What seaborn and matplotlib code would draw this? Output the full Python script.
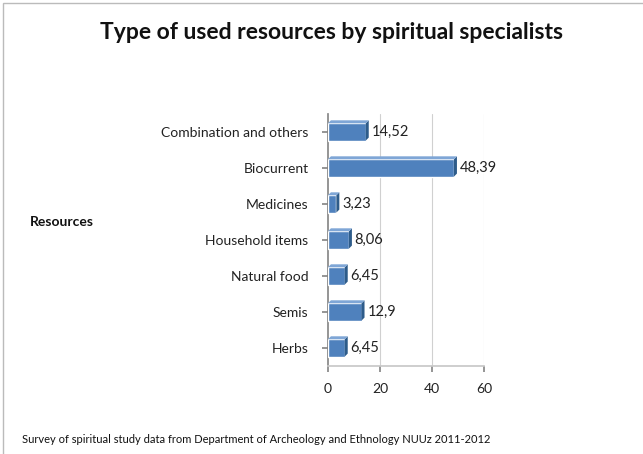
import matplotlib
matplotlib.use("Agg")
import matplotlib.pyplot as plt
import seaborn as sns
import pandas as pd
from matplotlib.patches import Polygon, Rectangle

categories = ["Combination and others", "Biocurrent", "Medicines", "Household items",
              "Natural food", "Semis", "Herbs"]
values = [14.52, 48.39, 3.23, 8.06, 6.45, 12.9, 6.45]
value_labels = ["14,52", "48,39", "3,23", "8,06", "6,45", "12,9", "6,45"]
xticks = [0, 20, 40, 60]

sns.set_theme(style="white")
plt.rcParams["font.family"] = ["Lato", "DejaVu Sans"]

df = pd.DataFrame({"Resource": categories, "Value": values})

fig = plt.figure(figsize=(6.43, 4.54), dpi=100)
ax = fig.add_axes([0.510, 0.194, 0.243, 0.555])

sns.barplot(data=df, y="Resource", x="Value", orient="h", color="#4F81BD",
            saturation=1, width=0.48, ax=ax, zorder=3)

ax.set_xlim(0, 60)
ax.set_xticks(xticks)
ax.set_xticklabels([str(t) for t in xticks], fontsize=10, color="#222222")
ax.set_xlabel("")
ax.set_ylabel("")
ax.tick_params(axis="y", labelsize=10, colors="#222222", length=4, left=True, color="#888888", pad=10)
ax.tick_params(axis="x", length=4, bottom=True, color="#888888", pad=8)
for v in xticks[1:]:
    ax.axvline(v, color="#d0d0d0", lw=0.8, zorder=0)
for s in ["top", "right"]:
    ax.spines[s].set_visible(False)
ax.spines["left"].set_color("#888888")
ax.spines["bottom"].set_color("#c8c8c8")

# 3D-like faces derived from bar patches
dx, dy = 3, 3
inv = fig.transFigure.inverted()
for p in ax.patches:
    x0, y0 = p.get_x(), p.get_y()
    w, h = p.get_width(), p.get_height()
    pts = ax.transData.transform([(x0, y0), (x0 + w, y0), (x0 + w, y0 + h), (x0, y0 + h)])
    xs = pts[:, 0]; ys = pts[:, 1]
    left, right = xs.min(), xs.max()
    bot, top = ys.min(), ys.max()
    side = [(right, bot), (right + dx, bot + dy), (right + dx, top + dy), (right, top)]
    topf = [(left, top), (left + dx, top + dy), (right + dx, top + dy), (right, top)]
    fig.patches.append(Polygon(inv.transform(side), closed=True, facecolor="#2E5C8A",
                               edgecolor="none", transform=fig.transFigure, zorder=4))
    fig.patches.append(Polygon(inv.transform(topf), closed=True, facecolor="#7FA6D6",
                               edgecolor="none", transform=fig.transFigure, zorder=4))

for i, (v, lab) in enumerate(zip(values, value_labels)):
    ax.text(v + 2.2, i, lab, va="center", ha="left", fontsize=10.5, color="#222222", zorder=5)

fig.text(0.516, 0.928, "Type of used resources by spiritual specialists", ha="center",
         va="center", fontsize=16.5, fontweight="bold", color="#111111")
fig.text(0.047, 0.511, "Resources", ha="left", va="center", fontsize=10,
         fontweight="bold", color="#111111")
fig.text(0.034, 0.031, "Survey of spiritual study data from Department of Archeology and Ethnology NUUz 2011-2012",
         ha="left", va="center", fontsize=8, color="#111111")

fig.patches.append(Rectangle((0.004, -0.01), 1.1, 1.003, transform=fig.transFigure,
                             fill=False, edgecolor="#bbbbbb", lw=1))

fig.savefig("out.png", dpi=100)
